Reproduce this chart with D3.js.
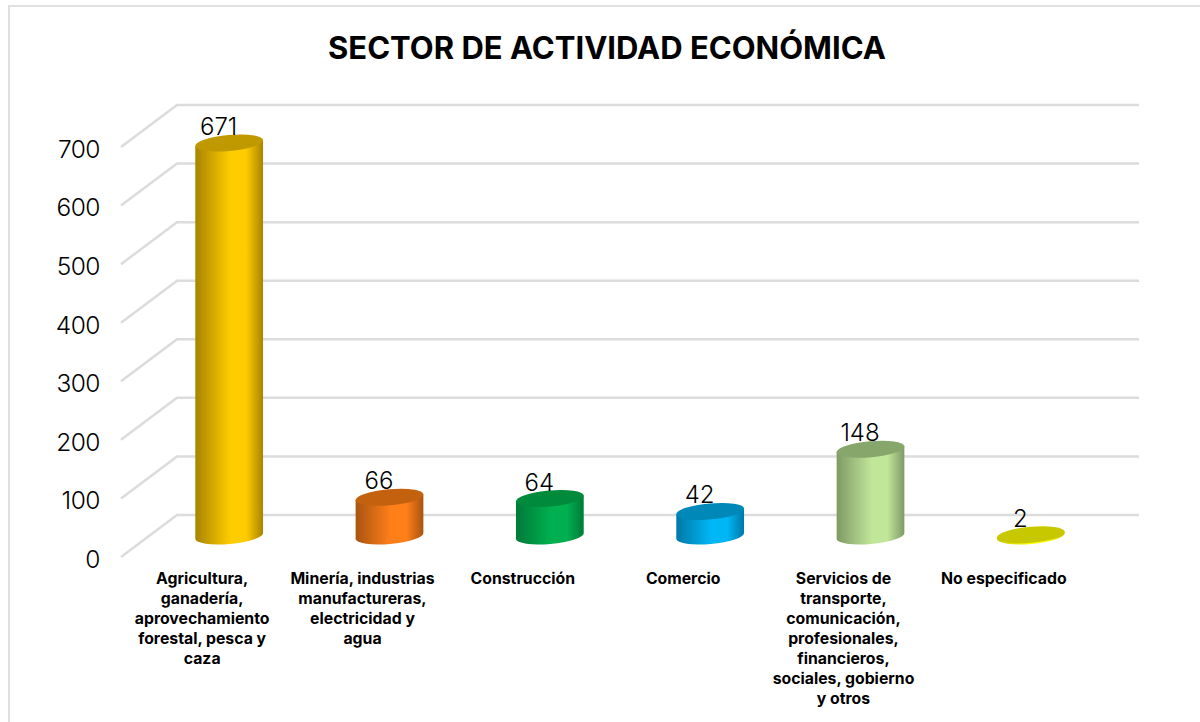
<!DOCTYPE html>
<html>
<head>
<meta charset="utf-8">
<script src="https://cdnjs.cloudflare.com/ajax/libs/d3/7.8.5/d3.min.js"></script>
<style>
  body { margin: 0; background: #fff; overflow: hidden; }
  text { font-family: "Inter", sans-serif; fill: #000; }
</style>
</head>
<body>
<script>
// Data
var categories = ["Agricultura", "Mineria", "Construccion", "Comercio", "Servicios", "NoEspecificado"];
var categoryLines = [
  ["Agricultura,", "ganadería,", "aprovechamiento", "forestal, pesca y", "caza"],
  ["Minería, industrias", "manufactureras,", "electricidad y", "agua"],
  ["Construcción"],
  ["Comercio"],
  ["Servicios de", "transporte,", "comunicación,", "profesionales,", "financieros,", "sociales, gobierno", "y otros"],
  ["No especificado"]
];
var values = [671, 66, 64, 42, 148, 2];
var tickValues = [0, 100, 200, 300, 400, 500, 600, 700];
var sideColors = ["#ffcc00", "#ff7f19", "#00b050", "#00b7f5", "#c0e699", "#ffff00"];
var sideDark = ["#a88400", "#a85410", "#007a38", "#0078a8", "#7f9a66", "#c8c800"];
var topColors = ["#c09900", "#c4610f", "#008a3c", "#0088b8", "#87a66c", "#c8c800"];

var width = 1200, height = 722;
var depth = 21;      // half of the floor depth, vertical
var rx = 34, ry = 8, tilt = -5;

var svg = d3.select("body").append("svg")
  .attr("width", width)
  .attr("height", height)
  .style("display", "block");

// Chart frame, runs off the right and bottom of the picture
svg.append("rect")
  .attr("x", 9).attr("y", 6)
  .attr("width", 1260).attr("height", 780)
  .attr("fill", "#fff")
  .attr("stroke", "#e0e0e0")
  .attr("stroke-width", 2);

// Title
svg.append("text")
  .attr("x", 607).attr("y", 59)
  .attr("text-anchor", "middle")
  .style("font-size", "31px")
  .style("font-weight", "700")
  .text("SECTOR DE ACTIVIDAD ECONÓMICA");

// Scales
var xScale = d3.scaleBand()
  .domain(categories)
  .range([149, 1111]);
var yScale = d3.scaleLinear()
  .domain([0, 700])
  .range([536, 126]);
var yFront = yScale.copy().range(yScale.range().map(function(d) { return d + depth; }));

// Gridlines: short slanted wall edge and long back wall line
var grid = svg.append("g");
var gridLine = d3.line();
tickValues.forEach(function(t) {
  grid.append("path")
    .attr("d", gridLine([
      [121, yFront(t)],
      [177, yFront(t) - 2 * depth],
      [1139, yFront(t) - 2 * depth]
    ]))
    .attr("fill", "none")
    .attr("stroke", "#dcdcdc")
    .attr("stroke-width", 2.5);
});

// Y axis labels
var yAxis = d3.axisLeft(yFront)
  .tickValues(tickValues)
  .tickSize(0)
  .tickPadding(0);
var axisG = svg.append("g")
  .attr("transform", "translate(100,2.5)")
  .call(yAxis);
axisG.select(".domain").remove();
axisG.selectAll("text")
  .attr("font-family", null)
  .style("font-size", "24.5px")
  .style("letter-spacing", "-0.5px")
  .style("font-weight", "300");

// Gradients for the cylinders
var defs = svg.append("defs");
categories.forEach(function(c, i) {
  var g = defs.append("linearGradient").attr("id", "grad" + i);
  g.append("stop").attr("offset", "0%").attr("stop-color", sideDark[i]);
  g.append("stop").attr("offset", "52%").attr("stop-color", sideColors[i]);
  g.append("stop").attr("offset", "75%").attr("stop-color", sideColors[i]);
  g.append("stop").attr("offset", "100%").attr("stop-color", sideDark[i]);
});

// Cylinders
var rad = tilt * Math.PI / 180;
var dx = rx * Math.cos(rad), dy = rx * Math.sin(rad);
var bars = svg.selectAll(".bar")
  .data(categories)
  .enter().append("g")
  .attr("class", "bar");

bars.append("path")
  .attr("fill", function(d, i) { return "url(#grad" + i + ")"; })
  .attr("d", function(d, i) {
    var cx = xScale(d) + xScale.bandwidth() / 2;
    var base = yScale(0), top = yScale(values[i]);
    return "M" + (cx - dx) + "," + (top - dy)
      + "L" + (cx - dx) + "," + (base - dy)
      + "A" + rx + "," + ry + "," + tilt + ",0,0," + (cx + dx) + "," + (base + dy)
      + "L" + (cx + dx) + "," + (top + dy) + "Z";
  });

bars.append("ellipse")
  .attr("rx", rx).attr("ry", ry)
  .attr("fill", function(d, i) { return topColors[i]; })
  .attr("transform", function(d, i) {
    return "translate(" + (xScale(d) + xScale.bandwidth() / 2) + "," + yScale(values[i]) + ") rotate(" + tilt + ")";
  });

// Value labels
svg.selectAll(".value")
  .data(categories)
  .enter().append("text")
  .attr("class", "value")
  .attr("x", function(d) { return xScale(d) + xScale.bandwidth() / 2 - 10.5; })
  .attr("y", function(d, i) { return yScale(values[i]) - 8; })
  .attr("text-anchor", "middle")
  .style("font-size", "24px")
  .style("font-weight", "300")
  .text(function(d, i) { return values[i]; });

// Category labels
var catLabels = svg.selectAll(".cat")
  .data(categories)
  .enter().append("text")
  .attr("class", "cat")
  .attr("text-anchor", "middle")
  .style("font-size", "15.8px")
  .style("font-weight", "700");
catLabels.selectAll("tspan")
  .data(function(d, i) {
    return categoryLines[i].map(function(line) { return {line: line, cat: d}; });
  })
  .enter().append("tspan")
  .attr("x", function(d) { return xScale(d.cat) + xScale.bandwidth() / 2 - 27; })
  .attr("y", function(d, i) { return 584 + i * 20; })
  .text(function(d) { return d.line; });
</script>
</body>
</html>
